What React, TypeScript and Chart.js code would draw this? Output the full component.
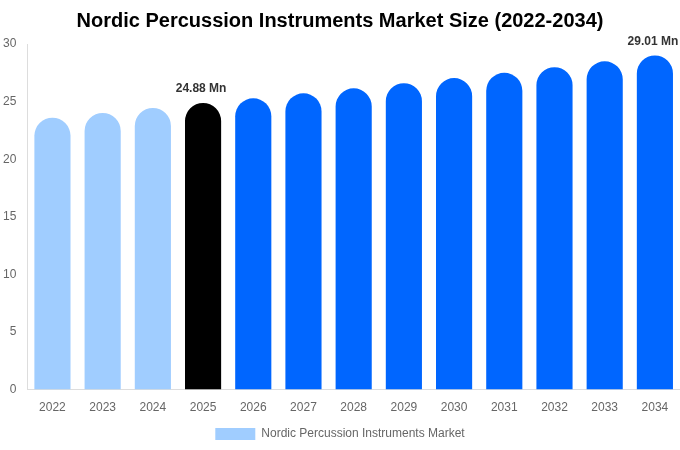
import React, { useEffect, useRef } from 'react';
import { Chart, registerables } from 'chart.js';

Chart.register(...registerables);

const years = ['2022', '2023', '2024', '2025', '2026', '2027', '2028', '2029', '2030', '2031', '2032', '2033', '2034'];
const marketSize = [23.6, 24.02, 24.45, 24.88, 25.29, 25.72, 26.15, 26.6, 27.04, 27.5, 27.99, 28.5, 29.01];
const barColors = [
  '#a0cdff', '#a0cdff', '#a0cdff', '#000000',
  '#0066ff', '#0066ff', '#0066ff', '#0066ff', '#0066ff',
  '#0066ff', '#0066ff', '#0066ff', '#0066ff',
];
const labelledBars = [3, 12];

// draws the value labels above the highlighted bars
const valueLabels = {
  id: 'valueLabels',
  afterDatasetsDraw(chart: Chart) {
    const ctx = chart.ctx;
    const meta = chart.getDatasetMeta(0);
    ctx.save();
    ctx.font = 'bold 12px "Liberation Sans", Arial, sans-serif';
    ctx.fillStyle = '#333333';
    ctx.textAlign = 'center';
    ctx.textBaseline = 'bottom';
    labelledBars.forEach((i) => {
      const bar = meta.data[i] as any;
      ctx.fillText(`${marketSize[i].toFixed(2)} Mn`, bar.x - 2, bar.y - 8);
    });
    ctx.restore();
  },
};

const App: React.FC = () => {
  const canvasRef = useRef<HTMLCanvasElement>(null);
  const chartRef = useRef<Chart | null>(null);

  useEffect(() => {
    document.body.style.margin = '0';
    if (!canvasRef.current) return;
    if (chartRef.current) chartRef.current.destroy();

    const ctx = canvasRef.current.getContext('2d');
    if (!ctx) return;

    chartRef.current = new Chart(ctx, {
      type: 'bar',
      data: {
        labels: years,
        datasets: [
          {
            label: 'Nordic Percussion Instruments Market',
            data: marketSize,
            backgroundColor: barColors,
            borderRadius: { topLeft: 100, topRight: 100, bottomLeft: 0, bottomRight: 0 },
            borderSkipped: false,
          },
        ],
      },
      options: {
        responsive: true,
        maintainAspectRatio: false,
        animation: false,
        layout: { padding: 0 },
        plugins: {
          title: {
            display: true,
            text: 'Nordic Percussion Instruments Market Size (2022-2034)',
            color: '#000000',
            font: { size: 20, weight: 'bold', family: '"Liberation Sans", Arial, sans-serif' },
            padding: { top: 9, bottom: 11 },
          },
          legend: {
            position: 'bottom',
            labels: {
              color: '#666666',
              boxWidth: 40,
              boxHeight: 12,
              font: { size: 12, family: '"Liberation Sans", Arial, sans-serif' },
              generateLabels: () => [
                {
                  text: 'Nordic Percussion Instruments Market',
                  fillStyle: '#a0cdff',
                  strokeStyle: '#a0cdff',
                  lineWidth: 0,
                  fontColor: '#666666',
                  datasetIndex: 0,
                } as any,
              ],
            },
          },
          tooltip: { enabled: false },
        },
        scales: {
          x: {
            grid: { display: false },
            border: { display: true, color: '#dddddd' },
            ticks: { color: '#666666', font: { size: 12, family: '"Liberation Sans", Arial, sans-serif' } },
          },
          y: {
            min: 0,
            max: 30,
            grid: { display: false },
            border: { display: true, color: '#dddddd' },
            ticks: { stepSize: 5, color: '#666666', font: { size: 12, family: '"Liberation Sans", Arial, sans-serif' } },
          },
        },
      },
      plugins: [valueLabels],
    });

    return () => {
      if (chartRef.current) {
        chartRef.current.destroy();
        chartRef.current = null;
      }
    };
  }, []);

  return (
    <div style={{ position: 'absolute', left: 0, top: 0, width: '680px', height: '450px' }}>
      <canvas ref={canvasRef}></canvas>
    </div>
  );
};

export default App;
